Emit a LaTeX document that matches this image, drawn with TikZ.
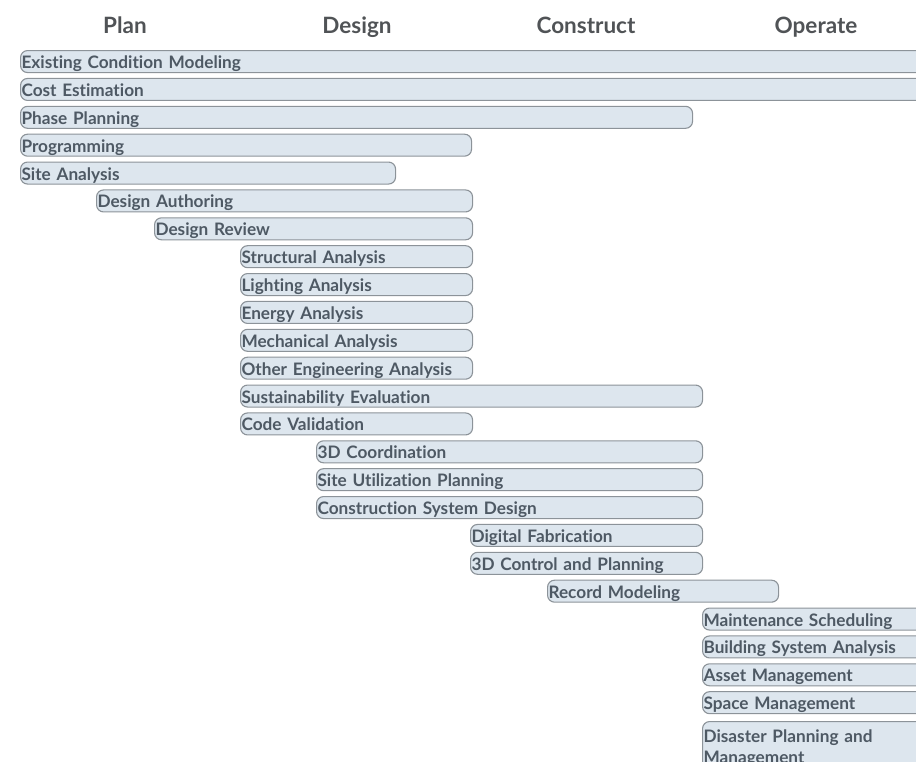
\documentclass[tikz,border=0pt]{standalone}
\usepackage{fontspec}
\setmainfont{Lato}[Ligatures=NoCommon]
\usepackage{tikz}

\definecolor{barfill}{HTML}{DDE6EE}
\definecolor{barline}{HTML}{8C9399}
\definecolor{bartext}{HTML}{4E5964}
\definecolor{headtext}{HTML}{505356}

\begin{document}
\begin{tikzpicture}[x=1pt,y=-1pt]
\tikzstyle{phase}=[font=\fontsize{22.5}{26}\selectfont\bfseries,text=headtext,anchor=base];
\tikzstyle{usebar}=[draw=barline,line width=1.1pt,fill=barfill,rounded corners=7pt,
  anchor=north west,align=left,inner xsep=1pt,inner ysep=0pt,minimum height=22pt,
  text=bartext,font=\fontsize{17.2}{21}\selectfont\bfseries];
\tikzstyle{oneline}=[usebar,text height=14pt,text depth=0pt];
\useasboundingbox (0,0) rectangle (916,761);
\clip (0,0) rectangle (916,761);
% phase headings
\node[phase] (plan) at (125,33) {Plan};
\node[phase] (design) at (357,33) {Design};
\node[phase] (construct) at (586,33) {Construct};
\node[phase] (operate) at (816,33) {Operate};
% one bar per BIM use: name/left/right/label
\foreach \n/\l/\r/\t [count=\i] in {
  ecm/20/940/Existing Condition Modeling,
  cost/20/940/Cost Estimation,
  phplan/20/693/Phase Planning,
  prog/20/472/Programming,
  site/20/396/Site Analysis,
  dauth/96/473/Design Authoring,
  drev/154/473/Design Review,
  struct/240/473/Structural Analysis,
  light/240/473/Lighting Analysis,
  energy/240/473/Energy Analysis,
  mech/240/473/Mechanical Analysis,
  other/240/473/Other Engineering Analysis,
  sust/240/703/Sustainability Evaluation,
  code/240/473/Code Validation,
  coord/316/703/3D Coordination,
  util/316/703/Site Utilization Planning,
  csd/316/703/Construction System Design,
  fab/470/703/Digital Fabrication,
  ctrl/470/703/3D Control and Planning,
  rec/547/779/Record Modeling,
  maint/702/940/Maintenance Scheduling,
  bsa/702/940/Building System Analysis,
  asset/702/940/Asset Management,
  space/702/940/Space Management}
  \node[oneline,text width=\r-\l-3pt] (\n) at (\l,{50+(\i-1)*27.875}) {\t};
\node[usebar,text width=235pt,minimum height=54pt] (disaster) at (702,721)
  {Disaster Planning and\\Management};
\end{tikzpicture}
\end{document}
